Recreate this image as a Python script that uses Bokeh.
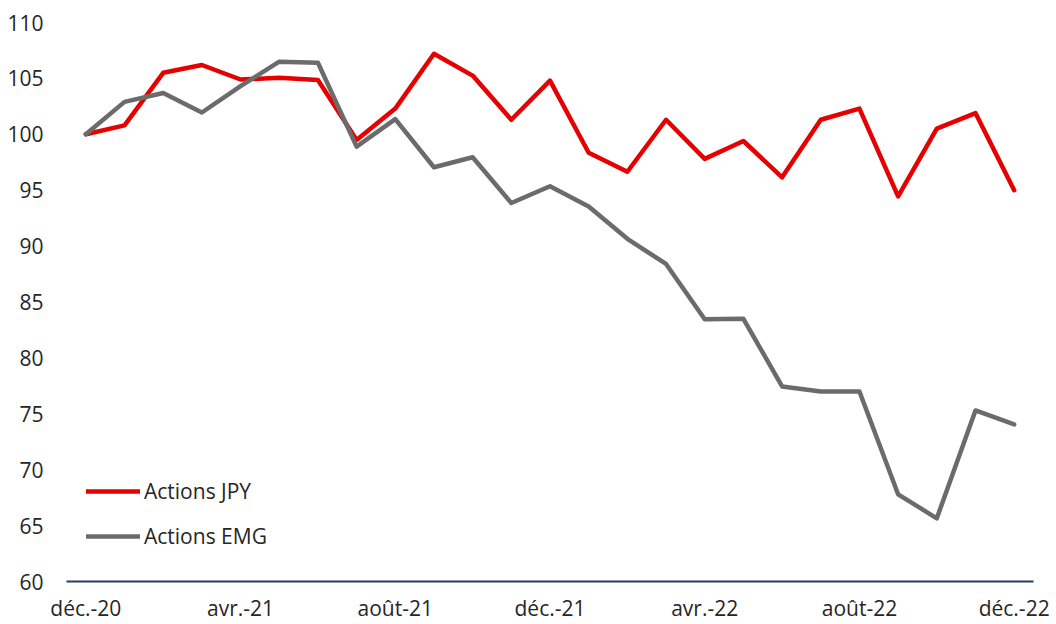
from bokeh.plotting import figure
from bokeh.models import FixedTicker, Legend, LegendItem, ColumnDataSource
from bokeh.embed import file_html
from bokeh.resources import INLINE

# Monthly index, déc.-20 = 100
months = ["déc.-20", "janv.-21", "févr.-21", "mars-21", "avr.-21", "mai-21", "juin-21",
          "juil.-21", "août-21", "sept.-21", "oct.-21", "nov.-21", "déc.-21",
          "janv.-22", "févr.-22", "mars-22", "avr.-22", "mai-22", "juin-22",
          "juil.-22", "août-22", "sept.-22", "oct.-22", "nov.-22", "déc.-22"]

actions_jpy = [100.0, 100.8, 105.5, 106.2, 104.9, 105.05, 104.85, 99.5, 102.3, 107.2,
               105.25, 101.3, 104.8, 98.35, 96.65, 101.3, 97.8, 99.4, 96.15, 101.3,
               102.3, 94.45, 100.5, 101.9, 95.0]
actions_emg = [100.0, 102.9, 103.7, 101.95, 104.3, 106.5, 106.4, 98.9, 101.35, 97.05,
               97.95, 93.85, 95.35, 93.55, 90.65, 88.4, 83.45, 83.5, 77.45, 77.0,
               77.0, 67.8, 65.65, 75.3, 74.05]

tick_labels = ["déc.-20", "avr.-21", "août-21", "déc.-21", "avr.-22", "août-22", "déc.-22"]
y_ticks = [60, 65, 70, 75, 80, 85, 90, 95, 100, 105, 110]

FONT = "Open Sans"
TXT = "#262626"

x_idx = list(range(len(months)))
src = ColumnDataSource(dict(x=x_idx, jpy=actions_jpy, emg=actions_emg))

p = figure(width=1050, height=624, output_backend="svg", toolbar_location=None,
           x_range=(-0.5, len(months) - 0.5), y_range=(60, 110),
           min_border_left=66, min_border_right=17, min_border_top=22, min_border_bottom=43)
p.outline_line_color = None
p.xgrid.visible = False
p.ygrid.visible = False
p.background_fill_color = "white"

r_jpy = p.line("x", "jpy", source=src, line_color="#E60000", line_width=4.5,
               line_join="round", line_cap="round")
r_emg = p.line("x", "emg", source=src, line_color="#6B6B6B", line_width=4.5,
               line_join="round", line_cap="round")

# x axis
tick_pos = [months.index(t) for t in tick_labels]
p.xaxis.ticker = FixedTicker(ticks=tick_pos)
p.xaxis.major_label_overrides = {i: months[i] for i in tick_pos}
p.xaxis.axis_line_color = "#2B3A63"
p.xaxis.axis_line_width = 2
p.xaxis.major_tick_line_color = None
p.xaxis.minor_tick_line_color = None
p.xaxis.major_tick_out = 0
p.xaxis.major_label_standoff = 12
p.xaxis.major_label_text_font = FONT
p.xaxis.major_label_text_font_size = "21px"
p.xaxis.major_label_text_color = TXT

# y axis
p.yaxis.ticker = FixedTicker(ticks=y_ticks)
p.yaxis.axis_line_color = None
p.yaxis.major_tick_line_color = None
p.yaxis.minor_tick_line_color = None
p.yaxis.major_tick_out = 0
p.yaxis.major_label_standoff = 23
p.yaxis.major_label_text_font = FONT
p.yaxis.major_label_text_font_size = "21px"
p.yaxis.major_label_text_color = TXT

legend = Legend(items=[LegendItem(label="Actions JPY", renderers=[r_jpy]),
                       LegendItem(label="Actions EMG", renderers=[r_emg])],
                location=(20, 31), orientation="vertical",
                glyph_width=54, glyph_height=24, label_height=24, label_standoff=4,
                spacing=17, padding=0, margin=0,
                border_line_alpha=0, background_fill_alpha=0,
                label_text_font=FONT, label_text_font_size="21px", label_text_color=TXT)
p.add_layout(legend, "center")

open("out.html", "w").write(file_html(p, INLINE))
